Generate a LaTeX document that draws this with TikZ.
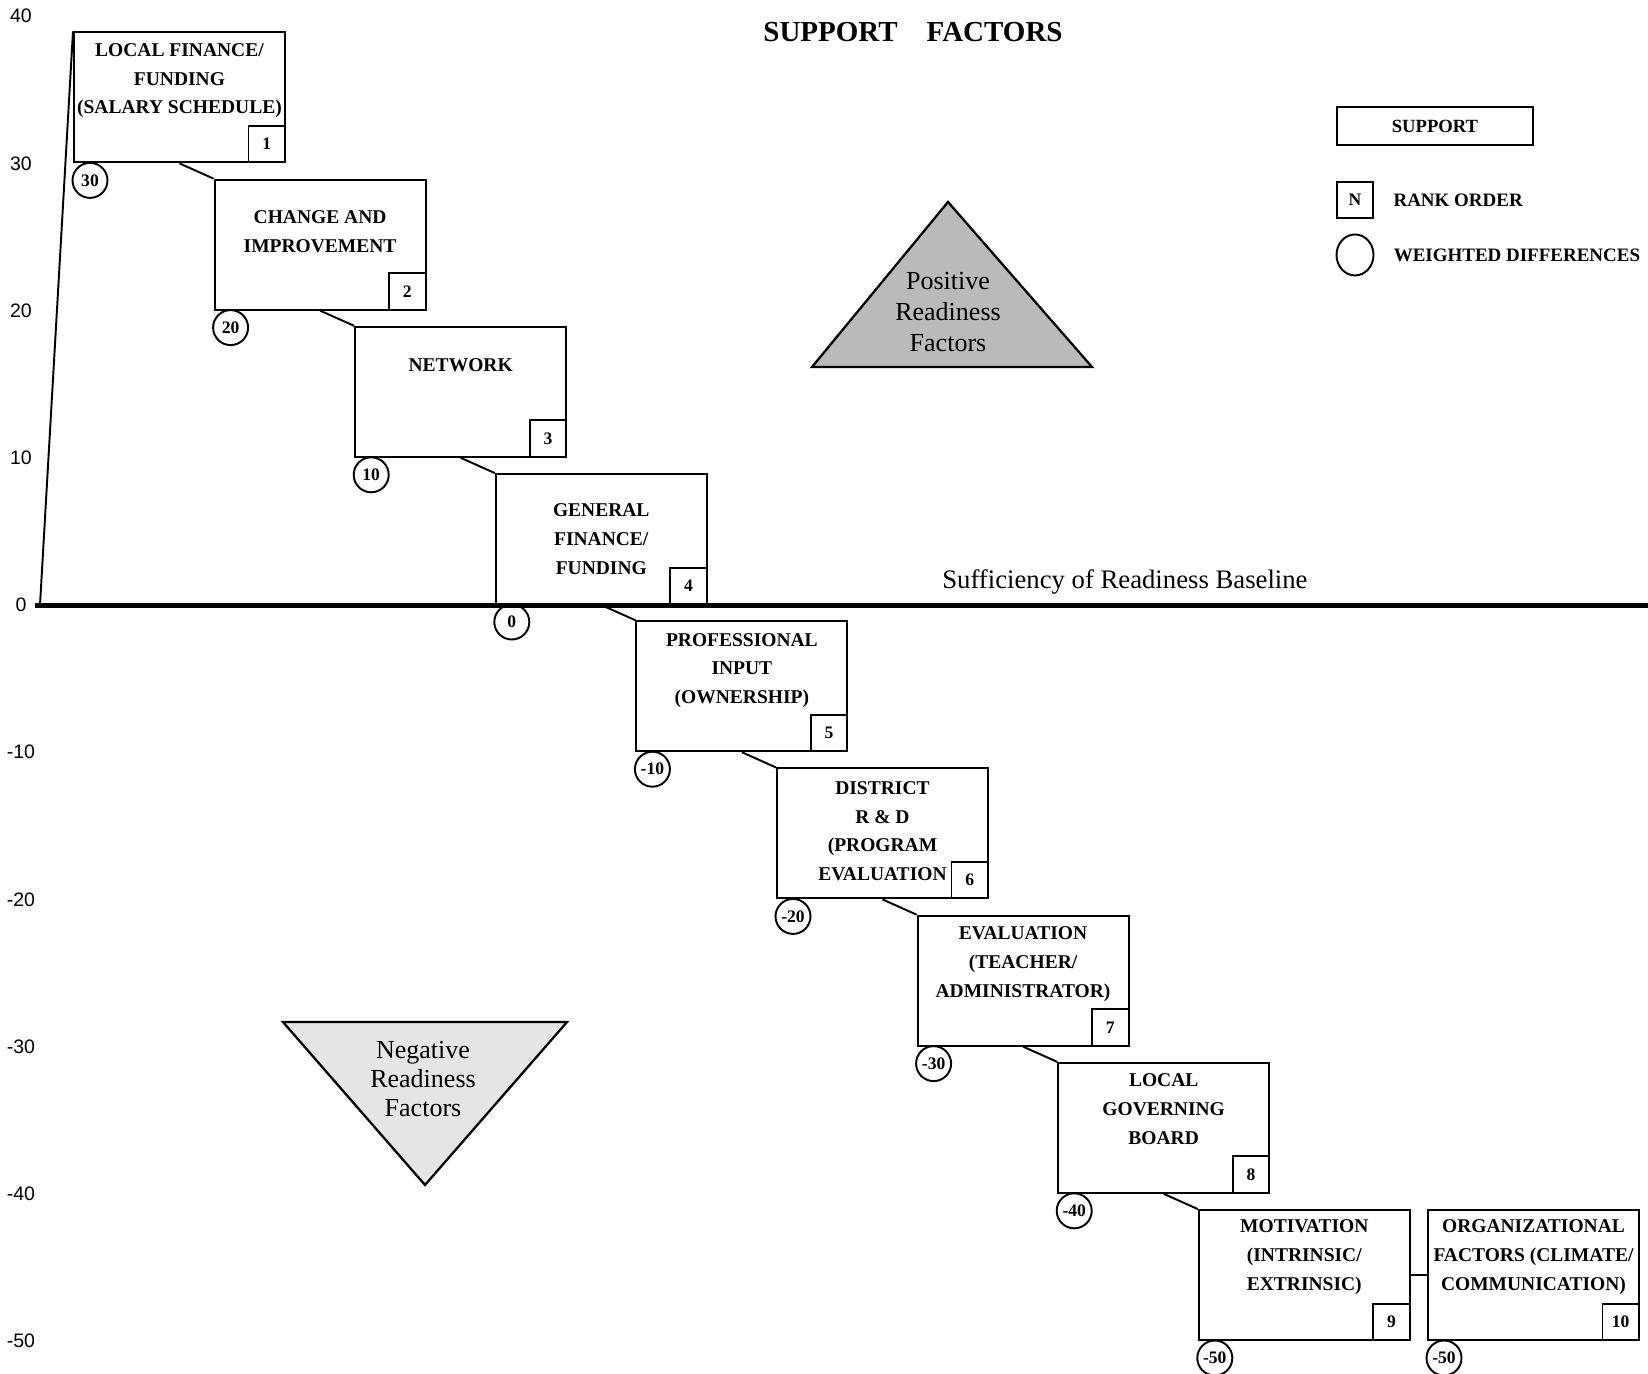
\documentclass[tikz,border=0pt]{standalone}
\usepackage{fontspec}
\setmainfont{Liberation Serif}
\newfontfamily\axisfont{Liberation Sans}
\usetikzlibrary{positioning}
\usetikzlibrary{shapes.geometric}

\begin{document}
\begin{tikzpicture}[
        x=0.2mm, y=2.944mm,
        frame/.style={line width=1.1pt},
        factor/.style={frame,draw,rectangle,minimum width=42.2mm,minimum height=26mm,
                       inner sep=0pt,anchor=south west},
        factortext/.style={inner sep=0pt,align=center,anchor=north,
                           font={\fontsize{11.1}{16.4}\selectfont\bfseries}},
        rank/.style={frame,draw,minimum size=7.3mm,inner sep=0pt,anchor=south east,
                     font={\fontsize{10}{12}\selectfont\bfseries}},
        wdiff/.style={frame,draw,circle,minimum size=7mm,inner sep=0pt,
                      font={\fontsize{10}{12}\selectfont\bfseries}},
        link/.style={line width=1.1pt},
        readiness/.style={line width=1.3pt,draw=black},
        readtext/.style 2 args={align=center,inner sep=0pt,
                                font={\fontsize{14.8}{#2}\selectfont},fill=#1},
        legendtext/.style={anchor=west,inner sep=0pt,
                           font={\fontsize{10.8}{13}\selectfont\bfseries}},
        axislabel/.style={font={\axisfont\fontsize{11.1}{13}\selectfont}},
      ]
      \useasboundingbox (0,41.1) rectangle (1648,-52.24);

      % Scale on the left
      \foreach \v in {40,30,...,-50}
        \node[axislabel] (lab\v) at (21,\v) {\v};

      % Baseline
      \coordinate (axisfoot) at (35,0);
      \coordinate (baseend) at (1648,0);
      \draw[line width=1mm] (axisfoot) -- (baseend);
      \node[anchor=base west,inner sep=0pt,font={\fontsize{15.2}{18}\selectfont}]
        (baselabel) at (942,1.09) {Sufficiency of Readiness Baseline};

      \node[font={\fontsize{16.5}{20}\selectfont\bfseries}] (title) at (913,38.93)
        {SUPPORT\quad FACTORS};

      % Staircase of factors
      \foreach \n/\v/\dy/\txt in {
          1/30/18/{LOCAL FINANCE/\\FUNDING\\(SALARY SCHEDULE)},
          2/20/38/{CHANGE AND\\IMPROVEMENT},
          3/10/39/{NETWORK},
          4/0/37/{GENERAL\\FINANCE/\\FUNDING},
          5/-10/19/{PROFESSIONAL\\INPUT\\(OWNERSHIP)},
          6/-20/20/{DISTRICT\\R \& D\\(PROGRAM\\EVALUATION},
          7/-30/18/{EVALUATION\\(TEACHER/\\ADMINISTRATOR)},
          8/-40/18/{LOCAL\\GOVERNING\\BOARD},
          9/-50/17/{MOTIVATION\\(INTRINSIC/\\EXTRINSIC)}}{
        \pgfmathsetmacro\xl{73+140.6*(\n-1)}
        \pgfmathsetlengthmacro\dd{(\dy-6.5)*0.2mm}
        \node[factor] (f\n) at (\xl,\v) {};
        \node[factortext,below=\dd of f\n.north] (t\n) {\txt};
        \node[rank] (r\n) at (f\n.south east) {\n};
        \node[wdiff] (w\n) at ([shift={(3.4mm,-3.4mm)}]f\n.south west) {\v};
      }
      % 10 sits beside 9
      \node[factor] (f10) at (1427,-50) {};
      \node[factortext,below=2.1mm of f10.north] (t10)
        {ORGANIZATIONAL\\FACTORS (CLIMATE/\\COMMUNICATION)};
      \node[rank] (r10) at (f10.south east) {10};
      \node[wdiff] (w10) at ([shift={(3.4mm,-3.4mm)}]f10.south west) {-50};

      \foreach \n [count=\m from 2] in {1,...,8}
        \draw[link] (f\n.south) -- (f\m.north west);
      \draw[link] (f9.east) -- (f10.west);
      \draw[link] (axisfoot) ++(5,0) -- (f1.north west);

      % Triangles
      \coordinate (posapex) at (948,27.38);
      \coordinate (posleft) at (812,16.17);
      \coordinate (posright) at (1092,16.17);
      \draw[readiness,fill=black!27] (posleft) -- (posapex) -- (posright) -- cycle;
      \node[readtext={none}{17.6}] (postext) at (948,19.9) {Positive\\Readiness\\Factors};

      \coordinate (negleft) at (283,-28.33);
      \coordinate (negright) at (567,-28.33);
      \coordinate (negapex) at (425,-39.4);
      \draw[readiness,fill=black!10] (negleft) -- (negright) -- (negapex) -- cycle;
      \node[readtext={none}{16.5}] (negtext) at (423,-32.2) {Negative\\Readiness\\Factors};

      % Legend
      \node[frame,draw,minimum width=39.2mm,minimum height=7.6mm,inner sep=0pt,
            font={\fontsize{10.6}{13}\selectfont\bfseries}] (legsupport) at (1435,32.54) {SUPPORT};
      \node[rank,anchor=center] (legrank) at (1355,27.51) {N};
      \node[frame,draw,ellipse,minimum width=7.4mm,minimum height=8.2mm,inner sep=0pt]
        (legwdiff) at (1355,23.78) {};
      \node[legendtext,right=3.8mm of legrank] (legranktext) {RANK ORDER};
      \node[legendtext,right=3.8mm of legwdiff] (legwdifftext) {WEIGHTED DIFFERENCES};
    \end{tikzpicture}
\end{document}
